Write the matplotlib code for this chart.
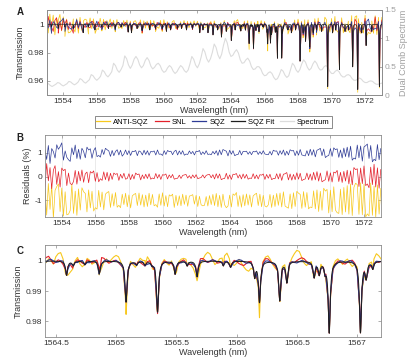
import numpy as np
import matplotlib
matplotlib.use('Agg')
import matplotlib.pyplot as plt
from matplotlib.lines import Line2D

plt.rcParams['font.family'] = ['Liberation Sans', 'DejaVu Sans']

#%% data
# absorption lines used by the SQZ fit: centre (nm), depth
line_c = np.array([
    1553.30, 1553.70, 1554.10, 1554.60, 1555.19, 1555.50, 1555.89, 1556.30, 1556.70, 1557.10,
    1557.45, 1557.87, 1558.07, 1558.40, 1558.70, 1559.16, 1559.50, 1559.90, 1560.15, 1560.40,
    1560.80, 1561.05, 1561.35, 1561.70, 1562.14, 1562.33, 1562.63, 1562.93, 1563.20, 1563.43,
    1563.72, 1564.02, 1564.25, 1564.589, 1564.644, 1564.74, 1564.861, 1565.083, 1565.17, 1565.24,
    1565.30, 1565.344, 1565.49, 1565.59, 1565.672, 1565.89, 1565.95, 1566.15, 1566.19, 1566.358,
    1566.417, 1566.644, 1566.686, 1566.735, 1566.769, 1567.028, 1567.075, 1567.13, 1567.40, 1567.60,
    1567.85, 1568.12, 1568.30, 1568.45, 1568.70, 1568.90, 1569.10, 1569.40, 1569.77, 1570.06,
    1570.25, 1570.47, 1570.80, 1571.00, 1571.26, 1571.56, 1571.80, 1572.06, 1572.40, 1572.85])
line_d = np.array([
    0.002, 0.003, 0.002, 0.003, 0.006, 0.002, 0.004, 0.002, 0.003, 0.003,
    0.002, 0.0055, 0.006, 0.003, 0.0045, 0.004, 0.003, 0.003, 0.005, 0.004,
    0.003, 0.003, 0.004, 0.003, 0.006, 0.004, 0.006, 0.0075, 0.004, 0.009,
    0.005, 0.0115, 0.004, 0.0047, 0.0015, 0.0012, 0.0041, 0.0136, 0.0012, 0.0012,
    0.0010, 0.0169, 0.0043, 0.0015, 0.0052, 0.0015, 0.002, 0.005, 0.0135, 0.013,
    0.0069, 0.0052, 0.0041, 0.003, 0.0236, 0.0236, 0.0052, 0.0024, 0.004, 0.006,
    0.004, 0.026, 0.006, 0.012, 0.016, 0.006, 0.004, 0.005, 0.044, 0.006,
    0.004, 0.032, 0.005, 0.004, 0.030, 0.046, 0.006, 0.015, 0.005, 0.044])
line_hw = 0.01

# extra depth of the measured traces at some line centres
anti_tip_c = [1565.083, 1565.672, 1566.19, 1569.77, 1571.56, 1572.85]
anti_tip_d = [-0.0041, -0.0013, -0.0050, -0.0015, -0.0020, -0.0010]
snl_tip_c = [1565.344]
snl_tip_d = [-0.0005]

# residuals (%) over 1553-1573 nm, panel B
res_sqz = [
    0.12, -0.28, 0.31, -0.45, 0.18, 0.05, -0.22, 0.34, 0.15, 0.26, 0.42, -0.31, 0.08, -0.19, -0.29, -0.36, 0.21, -0.08, 0.33, -0.24,
    0.15, -0.27, 0.19, 0.06, -0.21, 0.24, 0.12, 0.17, -0.23, 0.09, 0.22, -0.16, -0.11, -0.18, 0.14, -0.07, 0.19, 0.13, 0.08, -0.15,
    0.10, -0.12, 0.06, 0.13, -0.09, 0.11, -0.14, -0.05, 0.12, -0.08, 0.09, -0.11, 0.07, 0.05, 0.10, -0.12, 0.08, 0.04, -0.09, 0.11,
    -0.07, 0.09, -0.10, 0.06, 0.04, 0.08, -0.09, 0.12, -0.06, -0.05, -0.11, 0.09, -0.07, 0.10, 0.05, 0.07, -0.08, 0.06, 0.11, -0.09,
    0.08, -0.06, 0.09, -0.10, -0.05, -0.07, 0.08, -0.04, 0.06, -0.09, 0.07, 0.05, 0.10, -0.08, 0.04, -0.06, 0.09, -0.07, -0.05, -0.08,
    0.06, -0.05, 0.09, -0.11, 0.12, -0.08, 0.14, 0.10, 0.07, -0.13, 0.11, -0.06, 0.09, -0.12, -0.08, -0.07, 0.10, -0.09, 0.06, 0.05,
    0.07, -0.06, 0.05, -0.08, 0.06, 0.04, 0.08, -0.07, 0.05, -0.06, 0.09, -0.05, -0.07, -0.08, 0.06, -0.09, 0.11, 0.07, 0.08, -0.10,
    0.09, -0.06, 0.12, -0.11, 0.07, -0.09, 0.13, 0.08, 0.10, -0.12, 0.08, -0.10, 0.14, -0.09, -0.11, -0.13, 0.09, -0.12, 0.15, -0.10,
    0.13, -0.17, 0.11, 0.14, 0.19, -0.12, 0.16, -0.20, -0.14, -0.11, 0.18, -0.15, 0.21, 0.13, 0.17, -0.19, 0.12, -0.22, 0.20, -0.16,
    0.24, -0.19, 0.28, -0.31, -0.22, -0.26, 0.33, -0.21, 0.29, -0.35, 0.25, 0.30, 0.37, -0.24, 0.31, -0.38, -0.27, -0.33, 0.35, -0.29, 0.18]
res_snl = [
    -0.42, 0.55, -0.18, 0.38, -0.51, 0.27, 0.46, -0.33, 0.21, -0.44, 0.36, 0.25, 0.31, -0.38, 0.15, -0.29, -0.34, -0.21, 0.26, -0.32,
    0.22, -0.18, 0.28, -0.24, 0.12, 0.19, -0.26, 0.21, 0.15, 0.24, -0.20, 0.17, -0.22, -0.09, -0.16, 0.20, -0.13, 0.18, -0.19, 0.14,
    -0.12, 0.15, 0.09, 0.13, -0.16, 0.10, -0.07, 0.14, -0.11, -0.08, 0.12, -0.13, 0.09, -0.10, 0.15, 0.08, 0.11, -0.14, 0.07, -0.09,
    0.10, -0.08, 0.12, -0.11, -0.06, -0.09, 0.13, -0.07, 0.09, -0.12, 0.08, 0.06, 0.11, -0.10, 0.07, -0.05, 0.09, -0.11, -0.08, -0.07,
    0.06, -0.08, 0.05, 0.07, 0.09, -0.06, 0.04, -0.08, 0.07, -0.05, 0.08, -0.09, -0.06, -0.04, 0.07, -0.06, 0.05, 0.08, 0.09, -0.05,
    0.08, -0.10, 0.12, -0.07, 0.11, -0.13, -0.09, -0.08, 0.14, -0.11, 0.07, -0.12, 0.10, 0.09, 0.13, -0.06, 0.08, -0.10, 0.11, -0.07,
    0.09, -0.11, -0.06, -0.08, 0.12, -0.09, 0.07, -0.10, 0.08, 0.06, 0.11, -0.12, 0.09, -0.07, 0.10, -0.13, -0.08, -0.09, 0.12, -0.10,
    0.13, -0.16, 0.10, 0.12, 0.17, -0.14, 0.11, -0.15, 0.09, -0.13, 0.16, -0.11, 0.14, -0.17, -0.12, -0.10, 0.15, -0.13, 0.11, -0.16,
    0.18, -0.14, 0.21, -0.19, 0.15, -0.22, -0.17, -0.13, 0.24, -0.20, 0.16, -0.23, 0.19, 0.15, 0.26, -0.21, 0.18, -0.25, 0.22, -0.19,
    0.27, -0.31, 0.24, -0.35, 0.38, 0.29, 0.33, -0.42, 0.36, -0.30, 0.45, -0.38, -0.31, -0.47, 0.40, -0.34, 0.52, -0.44, 0.37, -0.49, 0.30]
res_anti = [
    0.55, -0.62, 0.71, -0.38, 0.64, -0.75, 0.42, 0.58, 0.69, -0.47, 0.52, -0.66, 0.36, -0.61, -0.58, -0.43, 0.67, -0.55, 0.39, -0.63,
    0.48, -0.41, 0.53, 0.36, 0.29, -0.49, 0.44, -0.32, 0.38, -0.45, -0.31, -0.37, 0.42, -0.28, 0.35, -0.40, 0.26, 0.33, 0.37, -0.30,
    0.28, -0.24, 0.33, -0.29, -0.21, -0.31, 0.26, -0.18, 0.30, -0.27, 0.23, -0.32, 0.19, 0.25, 0.29, -0.22, 0.31, -0.20, 0.24, -0.28,
    0.22, -0.26, 0.30, -0.19, 0.25, -0.23, -0.18, -0.29, 0.27, -0.21, 0.32, -0.24, 0.20, -0.27, 0.23, 0.18, 0.26, -0.30, 0.21, -0.22,
    0.19, -0.23, 0.26, -0.17, 0.22, -0.25, 0.18, 0.20, 0.24, -0.16, 0.21, -0.26, 0.17, -0.19, -0.23, -0.21, 0.16, -0.24, 0.20, -0.18,
    0.25, -0.22, 0.29, -0.27, 0.21, -0.30, 0.26, -0.19, -0.31, -0.24, 0.22, -0.28, 0.27, 0.21, 0.33, -0.26, 0.20, -0.29, 0.24, -0.23,
    0.27, -0.20, 0.23, -0.28, 0.19, 0.25, 0.30, -0.22, 0.26, -0.27, 0.21, -0.24, -0.28, -0.19, 0.25, -0.30, 0.22, -0.26, 0.29, -0.21,
    0.31, -0.28, 0.36, -0.24, -0.29, -0.33, 0.27, -0.35, 0.32, -0.26, 0.38, 0.30, 0.25, -0.34, 0.37, -0.29, 0.33, -0.36, -0.28, -0.31,
    0.40, -0.36, 0.44, -0.47, 0.38, -0.42, 0.51, 0.39, 0.46, -0.53, 0.43, -0.48, 0.57, -0.41, -0.52, -0.55, 0.47, -0.60, 0.54, -0.49,
    0.62, -0.58, 0.69, -0.64, 0.55, 0.72, 0.66, -0.59, 0.74, -0.61, 0.68, -0.70, -0.57, -0.66, 0.73, -0.63, 0.60, -0.71, 0.65, -0.58, 0.50]
res_offset = {'SQZ': 1.0, 'SNL': 0.0, 'ANTI-SQZ': -1.0}

# dual comb spectrum (right axis of A), 1553-1573 nm
spectrum = [
    .21, .20, .17, .15, .17, .19, .22, .21, .18, .16, .18, .20,
    .24, .23, .20, .18, .20, .23, .29, .27, .23, .21, .24, .27,
    .36, .34, .29, .26, .29, .33, .44, .41, .35, .32, .36, .41,
    .56, .52, .44, .40, .45, .52, .69, .64, .53, .47, .53, .63,
    .68, .63, .53, .48, .52, .61, .66, .61, .51, .46, .49, .54,
    .56, .52, .44, .40, .42, .48, .52, .49, .42, .38, .41, .47,
    .52, .49, .43, .40, .44, .55, .68, .63, .53, .48, .55, .67,
    .82, .76, .64, .58, .64, .75, .90, .84, .71, .64, .72, .88,
    1.00, .92, .76, .68, .70, .76, .80, .74, .62, .56, .57, .62,
    .65, .60, .50, .45, .46, .50, .50, .46, .38, .34, .35, .39,
    .41, .38, .31, .27, .29, .36, .45, .42, .35, .31, .34, .45,
    .56, .52, .44, .40, .45, .55, .62, .58, .49, .44, .47, .55,
    .60, .56, .48, .44, .45, .50, .52, .49, .42, .38, .38, .42,
    .44, .41, .35, .32, .32, .35, .36, .34, .29, .26, .26, .28,
    .30, .28, .24, .22, .22, .24, .25, .24, .21, .19, .19, .20, .21]

# panel C: deviation of the measured traces from the fit (x1e-3), 1564.4-1567.2 nm
dev_anti = [
    0.5, -0.5, 0.8, 0.2, -1.0, 1.5, 2.6, 3.0, 1.2, -1.5, -2.5, -3.0, -1.2, 0.6, 1.4, -0.8, -1.6, 0.3, 1.2, 0.4,
    -0.9, -0.3, 0.8, -0.5, -1.4, 0.2, 0.9, -0.4, 0.6, 1.5, 2.1, 1.8, 0.3, -0.9, -1.5, -0.2, 0.9, -0.6, -1.2, 0.4,
    1.3, 0.7, 1.6, 2.0, 0.8, -0.7, -0.2, -1.4, -0.8, 0.5, 1.1, -0.3, -1.0, 0.6, -0.4, -1.6, 0.2, 0.9, 1.2, 1.5,
    0.4, -0.9, -1.8, -2.4, -1.9, -0.6, 0.8, 2.2, 3.0, 2.4, 0.6, -1.1, -0.3, 1.0, 1.8, 2.6, 3.0, 1.9, 0.2, -1.2,
    -0.6, 0.7, -0.5, -1.8, -2.7, -3.0, -1.6, 0.2, -0.8, -1.5, 0.5, 1.4, 2.0, 2.2, 1.0, -0.6, -1.3, 0.1, -0.7, 0.9,
    1.3, -0.5, 0.4, 1.6, 2.8, 3.8, 3.4, 1.5, -0.4, -1.2, -0.3, 0.8, -0.6, -1.1, 0.3, 1.2, -0.2, -0.9, 0.4, -0.6,
    0.5, 1.1, 1.3, 0.2, -0.8, 0.4, 1.0, -0.3, -1.2, 0.2, 0.8, -0.4, 0.3, -0.9, -0.2, 0.6, 1.4, 2.2, 2.9, 2.0, 0.8]
dev_snl = [
    0.3, 1.2, 1.6, 0.4, -0.8, -0.3, 0.5, 0.2, -0.6, -0.2, 0.4, -0.5, -0.9, 0.1, 0.6, 0.2, -0.4, 0.3, 0.7, 0.1,
    -0.5, 0.2, 1.1, 1.9, 2.1, 1.2, 0.1, -0.6, -0.2, 0.3, 0.5, -0.2, -0.7, -0.1, 0.4, 0.6, 0.1, -0.3, 0.2, 0.5,
    -0.1, -0.6, -0.2, 0.4, 0.8, 0.3, -0.4, -0.9, -0.3, 0.2, 0.6, 0.1, -0.5, -0.2, 0.3, 0.1, -0.4, 0.2, 0.7, 0.4,
    -0.2, -0.8, -0.4, 0.3, 0.9, 1.4, 1.1, 0.3, -0.4, -0.1, 0.5, 0.2, -0.6, -0.3, 0.4, 0.8, 0.3, -0.2, 0.1, 0.5,
    0.0, -0.7, -1.1, -1.3, -0.6, 0.2, 0.7, 0.4, -0.3, 0.1, 0.6, 1.1, 1.5, 1.2, 0.4, -0.3, -0.6, 0.0, 0.5, 0.2,
    -0.4, 0.1, 0.7, 0.3, -0.2, 0.4, 0.9, 1.3, 1.0, 0.2, -0.5, -0.2, 0.4, 0.1, -0.6, -0.3, 0.3, 0.8, 0.4, -0.1,
    -0.5, 0.0, 0.6, 0.3, -0.4, -0.7, -0.1, 0.5, 0.9, 0.4, -0.2, 0.3, 0.8, 0.4, -0.3, -0.6, 0.0, 0.5, 0.3, -0.2, 0.1]
dev_sqz = [
    0.2, -0.3, 0.4, 0.6, 0.1, -0.4, -0.2, 0.3, 0.5, 0.0, -0.5, -0.2, 0.3, 0.1, -0.3, 0.2, 0.5, 0.2, -0.2, -0.4,
    0.1, 0.4, 0.2, -0.3, -0.1, 0.3, 0.6, 0.2, -0.2, 0.1, 0.4, 0.0, -0.4, -0.2, 0.2, 0.5, 0.3, -0.1, -0.3, 0.1,
    0.4, 0.2, -0.2, -0.5, -0.1, 0.3, 0.5, 0.1, -0.3, 0.0, 0.3, -0.1, -0.4, 0.2, 0.6, 0.3, -0.1, -0.3, 0.1, 0.4,
    0.2, -0.2, -0.5, -0.1, 0.3, 0.7, 0.4, 0.0, -0.3, 0.1, 0.5, 0.2, -0.2, 0.1, 0.4, 0.6, 0.3, -0.1, -0.4, 0.0,
    0.3, 0.6, 0.4, -0.1, -0.5, -0.2, 0.2, 0.5, 0.1, -0.3, 0.0, 0.4, 0.7, 0.5, 0.1, -0.3, -0.1, 0.3, 0.6, 0.2,
    -0.2, 0.1, 0.5, 0.3, -0.1, -0.4, 0.0, 0.4, 0.2, -0.2, -0.5, -0.1, 0.3, 0.6, 0.2, -0.2, 0.1, 0.4, 0.7, 0.3,
    -0.1, -0.4, 0.0, 0.5, 0.3, -0.2, 0.1, 0.6, 0.4, 0.0, -0.3, 0.2, 0.5, 0.1, -0.4, -0.1, 0.3, 0.6, 0.4, 0.1, 0.0]

ab_xticks = [1554, 1556, 1558, 1560, 1562, 1564, 1566, 1568, 1570, 1572]
c_xticks = [1564.5, 1565, 1565.5, 1566, 1566.5, 1567]

colors = {'ANTI-SQZ': '#F7C81E', 'SNL': '#E3202A', 'SQZ': '#2E3B96',
          'SQZ Fit': '#1E1E1E', 'Spectrum': '#DCDCDC'}
spine_col = '#8c8c8c'
text_col = '#333333'


#%% helpers
def trans_fit(lam):
    lam = np.asarray(lam)
    return 1 - (line_d / (1 + ((lam[:, None] - line_c) / line_hw) ** 2)).sum(axis=1)


def tip_array(cs, ds):
    t = np.zeros(len(line_c))
    for c, d in zip(cs, ds):
        t[np.argmin(np.abs(line_c - c))] = d
    return t


def measured(lo, hi, dev, tips):
    grid = np.linspace(lo, hi, len(dev))
    keep = (line_c > lo) & (line_c < hi)
    lam = np.concatenate([grid, line_c[keep]])
    val = np.concatenate([trans_fit(grid) + dev, trans_fit(line_c[keep]) + tips[keep]])
    order = np.argsort(lam)
    return lam[order], val[order]


def style(ax, right=True):
    for s in ax.spines.values():
        s.set_color(spine_col)
        s.set_linewidth(0.6)
    ax.tick_params(direction='in', length=2.5, width=0.5, colors=spine_col,
                   labelcolor=text_col, labelsize=6, top=True, right=right, pad=2)


tips = {'ANTI-SQZ': tip_array(anti_tip_c, anti_tip_d),
        'SNL': tip_array(snl_tip_c, snl_tip_d),
        'SQZ': np.zeros(len(line_c))}
res_pct = {'ANTI-SQZ': np.array(res_anti), 'SNL': np.array(res_snl), 'SQZ': np.array(res_sqz)}
dev_c = {'ANTI-SQZ': np.array(dev_anti) * 1e-3, 'SNL': np.array(dev_snl) * 1e-3,
         'SQZ': np.array(dev_sqz) * 1e-3}
order = ['ANTI-SQZ', 'SNL', 'SQZ']

fig = plt.figure(figsize=(4.09, 3.61), dpi=100)

#%% panel A
ax_a = fig.add_axes([0.1137, 0.7368, 0.820, 0.2355])
ax_s = ax_a.twinx()
ax_s.plot(np.linspace(1553, 1573, len(spectrum)), spectrum, color=colors['Spectrum'], lw=0.8)
ax_s.set_ylim(0, 1.5)
ax_s.set_yticks([0, 0.5, 1, 1.5])
ax_s.set_yticklabels(['%g' % v for v in [0, 0.5, 1, 1.5]])
ax_s.set_ylabel('Dual Comb Spectrum', fontsize=6.5, color='#a0a0a0', labelpad=2)
ax_a.set_zorder(ax_s.get_zorder() + 1)
ax_a.patch.set_visible(False)

for name in order:
    x, y = measured(1553, 1573, res_pct[name] / 100, tips[name])
    ax_a.plot(x, y, color=colors[name], lw=0.55)
lam_dense = np.linspace(1553, 1573, 20001)
ax_a.plot(lam_dense, trans_fit(lam_dense), color=colors['SQZ Fit'], lw=0.5)
ax_a.set_xlim(1553, 1573)
ax_a.set_ylim(0.95, 1.01)
ax_a.set_xticks(ab_xticks)
ax_a.set_yticks([0.96, 0.98, 1])
ax_a.set_yticklabels(['%g' % v for v in [0.96, 0.98, 1]])
ax_a.set_xlabel('Wavelength (nm)', fontsize=6.5, color=text_col, labelpad=1)
ax_a.set_ylabel('Transmission', fontsize=6.5, color=text_col, labelpad=2)
style(ax_a, right=False)
style(ax_s)
ax_s.tick_params(labelcolor='#a0a0a0', top=False)

handles = [Line2D([], [], color=colors[k], lw=0.9)
           for k in ['ANTI-SQZ', 'SNL', 'SQZ', 'SQZ Fit', 'Spectrum']]
leg = fig.legend(handles, ['ANTI-SQZ', 'SNL', 'SQZ', 'SQZ Fit', 'Spectrum'],
                 loc='center', bbox_to_anchor=(0.521, 0.662), ncol=5, fontsize=5.5,
                 frameon=True, fancybox=False, handlelength=1.8, columnspacing=0.8,
                 handletextpad=0.4, borderpad=0.25)
leg.get_frame().set_edgecolor('#555555')
leg.get_frame().set_linewidth(0.6)

#%% panel B
ax_b = fig.add_axes([0.110, 0.399, 0.821, 0.227])
for name in order:
    ax_b.plot(np.linspace(1553, 1573, len(res_pct[name])), res_pct[name] + res_offset[name],
              color=colors[name], lw=0.5)
ax_b.set_xlim(1553, 1573)
ax_b.set_ylim(-1.7, 1.75)
ax_b.set_xticks(ab_xticks)
ax_b.set_yticks([-1, 0, 1])
ax_b.set_yticklabels(['%g' % v for v in [-1, 0, 1]])
ax_b.grid(axis='x', color='#e2e2e2', lw=0.5)
ax_b.set_axisbelow(True)
ax_b.set_xlabel('Wavelength (nm)', fontsize=6.5, color=text_col, labelpad=1)
ax_b.set_ylabel('Residuals (%)', fontsize=6.5, color=text_col, labelpad=2)
style(ax_b)

#%% panel C
ax_c = fig.add_axes([0.110, 0.0665, 0.822, 0.2548])
for name in order:
    x, y = measured(1564.4, 1567.2, dev_c[name], tips[name])
    ax_c.plot(x, y, color=colors[name], lw=0.8)
lam_c = np.linspace(1564.4, 1567.2, 5601)
ax_c.plot(lam_c, trans_fit(lam_c), color=colors['SQZ Fit'], lw=0.7)
ax_c.set_xlim(1564.41, 1567.2)
ax_c.set_ylim(0.9747, 1.0053)
ax_c.set_xticks(c_xticks)
ax_c.set_xticklabels(['%g' % v for v in c_xticks])
ax_c.set_yticks([0.98, 0.99, 1])
ax_c.set_yticklabels(['%g' % v for v in [0.98, 0.99, 1]])
ax_c.set_xlabel('Wavelength (nm)', fontsize=6.5, color=text_col, labelpad=1)
ax_c.set_ylabel('Transmission', fontsize=6.5, color=text_col, labelpad=2)
style(ax_c)

for lab, yy in zip(['A', 'B', 'C'], [0.967, 0.618, 0.305]):
    fig.text(0.04, yy, lab, fontsize=7, fontweight='bold', color='#222222', va='center')

fig.savefig('out.png', dpi=100, facecolor='w')
